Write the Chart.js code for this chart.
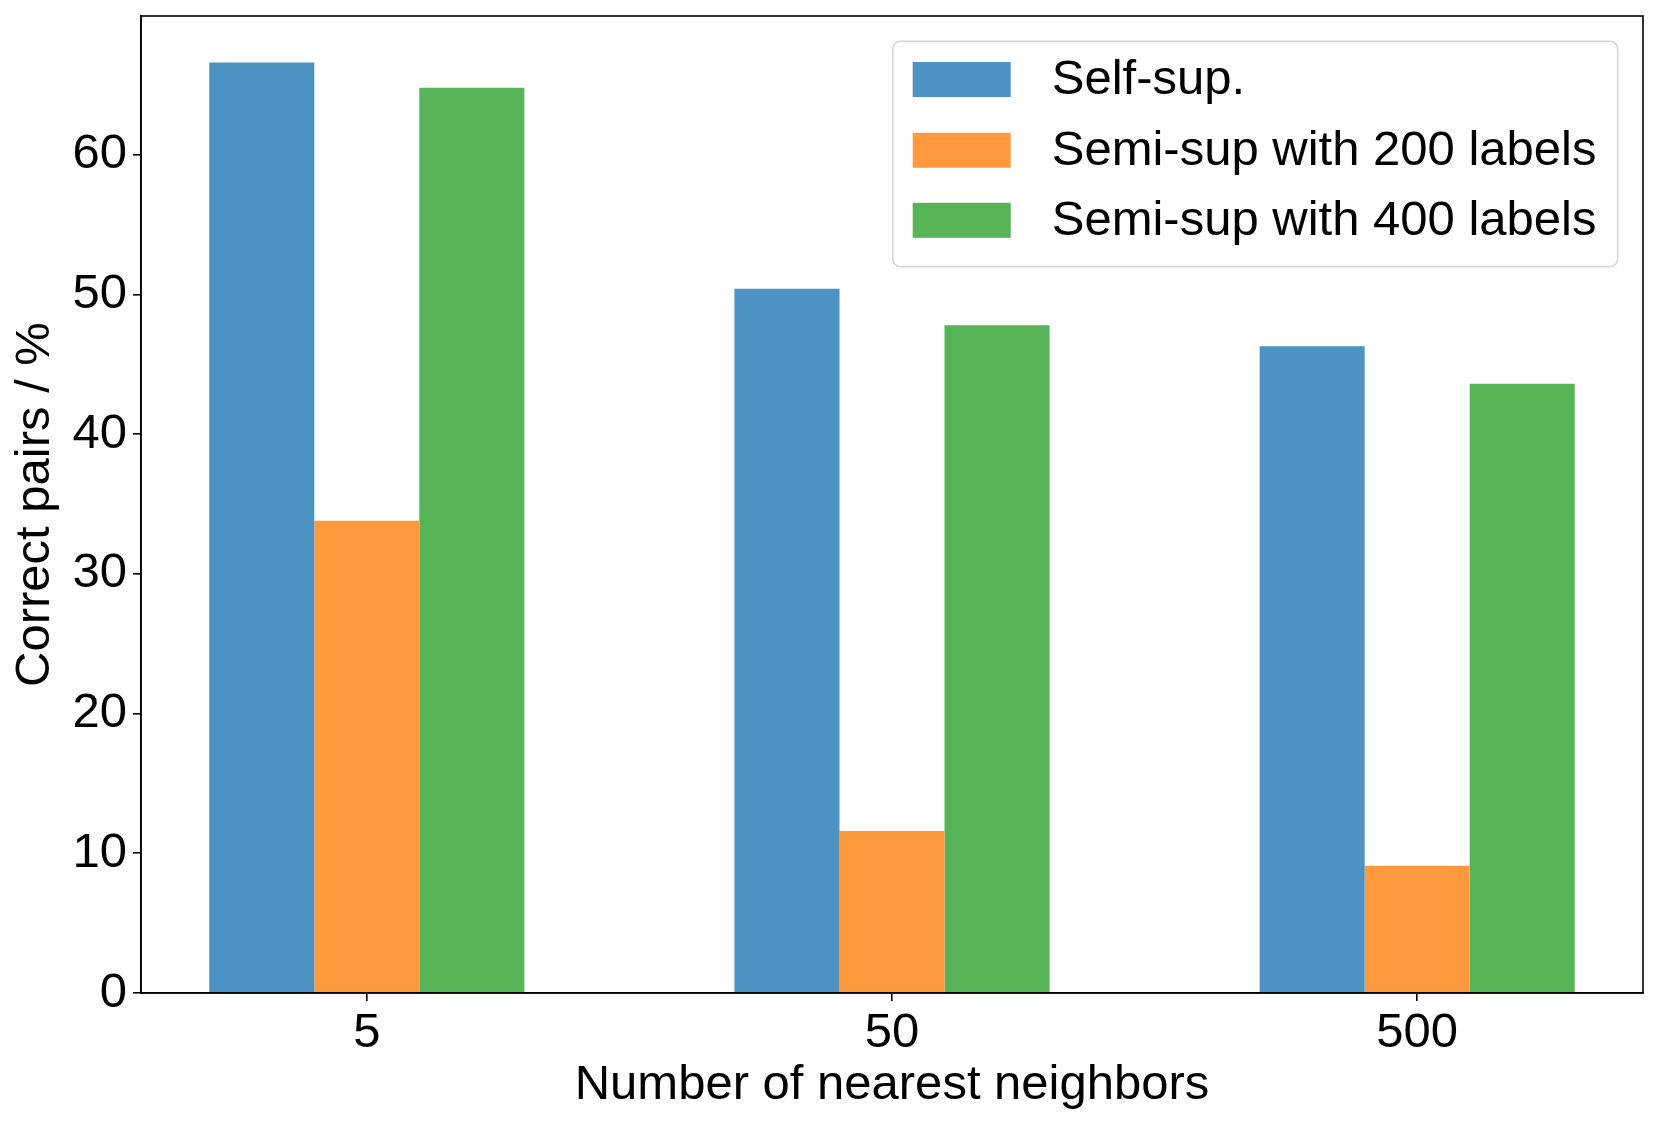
<!DOCTYPE html>
<html>
<head>
<meta charset="utf-8">
<script src="https://cdn.jsdelivr.net/npm/chart.js@4.4.1/dist/chart.umd.min.js"></script>
<style>
  html, body { margin: 0; padding: 0; background: #ffffff; }
  #wrap { width: 1660px; height: 1126px; }
</style>
</head>
<body>
<div id="wrap"><canvas id="c" width="1660" height="1126"></canvas></div>
<script>
// ---- data ----
const categories = ['5', '50', '500'];
const seriesNames = ['Self-sup.', 'Semi-sup with 200 labels', 'Semi-sup with 400 labels'];
const selfSup = [66.6, 50.4, 46.3];
const semi200 = [33.8, 11.6, 9.1];
const semi400 = [64.8, 47.8, 43.6];
const yTicks = [0, 10, 20, 30, 40, 50, 60];
const xTitle = 'Number of nearest neighbors';
const yTitle = 'Correct pairs / %';

const colors = ['rgb(76,146,195)', 'rgb(255,153,62)', 'rgb(86,179,86)'];
const FONT = 'Liberation Sans, Arial, Helvetica, sans-serif';
const FS = 49;

const toPoints = arr => arr.map((v, i) => ({ x: i, y: v }));
const allSeries = [selfSup, semi200, semi400];
const yMax = Math.max(...allSeries.flat()) * 1.05;
const xPad = 0.3 + 0.05 * (categories.length - 1 + 0.6);

const frameAndLegend = {
  id: 'frameAndLegend',
  afterDraw(chart) {
    const ctx = chart.ctx;
    const a = chart.chartArea;
    ctx.save();
    // axes frame (top & right spines)
    ctx.strokeStyle = '#000';
    ctx.lineWidth = 1.6;
    ctx.strokeRect(a.left, a.top, a.right - a.left, a.bottom - a.top);

    // legend box inside upper right
    const bw = 725, bh = 225.5;
    const bx = a.right - 25.3 - bw, by = a.top + 25.3;
    const r = 9;
    ctx.beginPath();
    ctx.moveTo(bx + r, by);
    ctx.lineTo(bx + bw - r, by);
    ctx.quadraticCurveTo(bx + bw, by, bx + bw, by + r);
    ctx.lineTo(bx + bw, by + bh - r);
    ctx.quadraticCurveTo(bx + bw, by + bh, bx + bw - r, by + bh);
    ctx.lineTo(bx + r, by + bh);
    ctx.quadraticCurveTo(bx, by + bh, bx, by + bh - r);
    ctx.lineTo(bx, by + r);
    ctx.quadraticCurveTo(bx, by, bx + r, by);
    ctx.closePath();
    ctx.fillStyle = 'rgba(255,255,255,0.8)';
    ctx.fill();
    ctx.strokeStyle = '#d6d6d6';
    ctx.lineWidth = 1.6;
    ctx.stroke();

    const rowY = [38.2, 109, 179];
    chart.data.datasets.forEach((ds, i) => {
      const cy = by + rowY[i];
      ctx.fillStyle = ds.backgroundColor;
      ctx.fillRect(bx + 20, cy - 17.5, 98, 35);
      ctx.fillStyle = '#000';
      ctx.font = FS + 'px ' + FONT;
      ctx.textBaseline = 'middle';
      ctx.textAlign = 'left';
      ctx.fillText(ds.label, bx + 159, cy + 1);
    });
    ctx.restore();
  }
};

new Chart(document.getElementById('c'), {
  type: 'bar',
  data: {
    datasets: allSeries.map((s, i) => ({
      label: seriesNames[i],
      data: toPoints(s),
      backgroundColor: colors[i],
      borderWidth: 0,
      barPercentage: 1.0,
      categoryPercentage: 0.6
    }))
  },
  options: {
    responsive: false,
    devicePixelRatio: 1,
    animation: false,
    layout: { padding: { top: 16, right: 17, bottom: 0, left: 0 } },
    plugins: { legend: { display: false }, tooltip: { enabled: false } },
    scales: {
      x: {
        type: 'linear',
        min: -xPad,
        max: categories.length - 1 + xPad,
        offset: false,
        afterBuildTicks: (scale) => { scale.ticks = categories.map((c, i) => ({ value: i })); },
        afterFit: (scale) => {
          scale.height = 133;
          scale.paddingLeft = 0; scale.paddingRight = 0;
          scale.paddingTop = 0; scale.paddingBottom = 0;
        },
        ticks: {
          callback: (v) => categories[v],
          color: '#000',
          font: { family: FONT, size: FS },
          padding: 3,
          maxRotation: 0,
          autoSkip: false
        },
        grid: { offset: false, drawOnChartArea: false, drawTicks: true, tickLength: 8, color: '#000', lineWidth: 1.6 },
        border: { display: true, color: '#000', width: 1.6 },
        title: {
          display: true,
          text: xTitle,
          color: '#000',
          font: { family: FONT, size: FS },
          padding: { top: 0, bottom: 11 }
        }
      },
      y: {
        min: 0,
        max: yMax,
        afterBuildTicks: (scale) => { scale.ticks = yTicks.map(v => ({ value: v })); },
        afterFit: (scale) => {
          scale.width = 141;
          scale.paddingTop = 0; scale.paddingBottom = 0;
          scale.paddingLeft = 0; scale.paddingRight = 0;
        },
        ticks: {
          color: '#000',
          font: { family: FONT, size: FS },
          padding: 6
        },
        grid: { offset: false, drawOnChartArea: false, drawTicks: true, tickLength: 8, color: '#000', lineWidth: 1.6 },
        border: { display: true, color: '#000', width: 1.6 },
        title: {
          display: true,
          text: yTitle,
          color: '#000',
          font: { family: FONT, size: FS },
          padding: { top: 6, bottom: 0 }
        }
      }
    }
  },
  plugins: [frameAndLegend]
});
</script>
</body>
</html>
